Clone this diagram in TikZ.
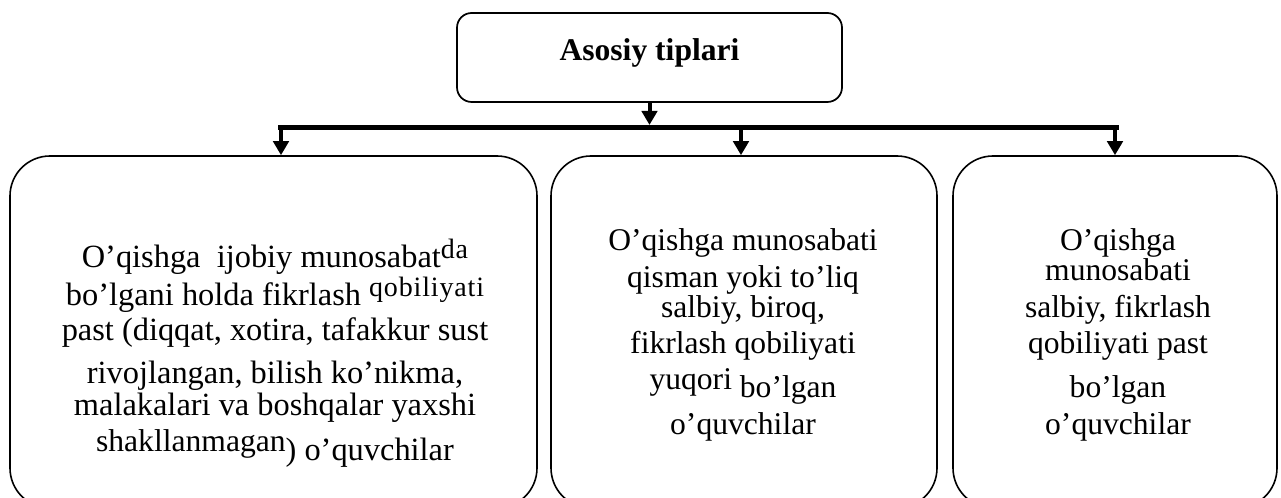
\documentclass[tikz,border=0pt]{standalone}
\usepackage{fontspec}
\setmainfont{Liberation Serif}
\usetikzlibrary{positioning, calc, arrows.meta}
\tikzset{
	titlebox/.style={draw, line width=1.3pt, rounded corners=11pt, inner sep=0pt,
		minimum width=288.75pt, minimum height=66.75pt,
		text height=16.6pt, text depth=12.8pt,
		font=\fontsize{23.7}{28}\selectfont\bfseries}
}
\tikzset{
	typebox/.style={draw, line width=1.2pt, rounded corners=30pt, inner sep=0pt,
		minimum height=264pt}
}
\tikzset{
	bodytext/.style={align=center, inner sep=0pt, font=\fontsize{23.7}{27.4}\selectfont}
}
\tikzset{
	widetext/.style={bodytext, font=\fontsize{24.3}{28.5}\selectfont}
}
\tikzset{
	arr/.style={line width=3pt, -{Triangle[length=10.5pt, width=11.5pt]}}
}
\tikzset{
	thickbar/.style={line width=3.8pt}
}
\newcommand{\raised}[1]{\raisebox{6.5pt}{\fontsize{21}{24}\selectfont\addfontfeatures{LetterSpace=3}#1}}
\newcommand{\lifted}[1]{\raisebox{6.5pt}{\fontsize{23.7}{27}\selectfont #1}}

\begin{document}
\begin{tikzpicture}[x=0.75pt, y=-0.75pt]
      \useasboundingbox (0,0) rectangle (1281,498);
      \clip (0,0) rectangle (1281,498);
      \node[titlebox] (title) at (649.5,57.5) {Asosiy tiplari};
      % three boxes, bottoms run off the page
      \node[typebox, minimum width=395.25pt] (b1) at (273.5,332) {};
      \node[typebox, minimum width=289.5pt] (b2) at (744,332) {};
      \node[typebox, minimum width=243pt] (b3) at (1115,332) {};
      \node[widetext] (t1) at (275,353) {O’qishga\ \ ijobiy munosabat\raised{da}\\
        bo’lgani holda fikrlash \raised{qobiliyati}\\[-2.25pt]
        past (diqqat, xotira, tafakkur sust\\[3.75pt]
        rivojlangan, bilish ko’nikma,\\[-4.5pt]
        malakalari va boshqalar yaxshi\\[5.25pt]
        \lifted{shakllanmagan}) o’quvchilar};
      \node[bodytext] (t2) at (743,335) {O’qishga munosabati\\
        qisman yoki to’liq\\[-5pt]
        salbiy, biroq,\\
        fikrlash qobiliyati\\[5.5pt]
        \lifted{yuqori} bo’lgan\\
        o’quvchilar};
      \node[bodytext] (t3) at (1118,335) {O’qishga\\[-5pt]
        munosabati\\
        salbiy, fikrlash\\
        qobiliyati past\\[5.5pt]
        bo’lgan\\
        o’quvchilar};
      % distribution bar
      \coordinate (barL) at (278,127.5);
      \coordinate (barR) at (1119,127.5);
      \coordinate (j1) at (281,127.5);
      \coordinate (j2) at (741,127.5);
      \coordinate (j3) at (1115,127.5);
      \draw[thickbar] (barL) -- (barR);
      \draw[arr, shorten >=1.9pt] (title.south) -- (title.south |- barL);
      \draw[arr] (j1) -- (j1 |- b1.north);
      \draw[arr] (j2) -- (j2 |- b2.north);
      \draw[arr] (j3) -- (j3 |- b3.north);
    \end{tikzpicture}
\end{document}
